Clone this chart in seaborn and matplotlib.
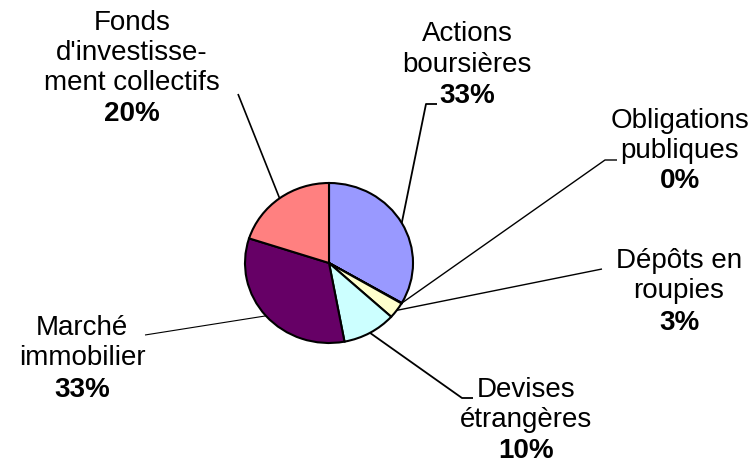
import matplotlib
matplotlib.use("Agg")
import matplotlib.pyplot as plt
import seaborn as sns
import numpy as np

# Portfolio composition (percent of total)
categories = [
    "Actions\nboursières",
    "Obligations\npubliques",
    "Dépôts en\nroupies",
    "Devises\nétrangères",
    "Marché\nimmobilier",
    "Fonds\nd'investisse-\nment collectifs",
]
shares = [33.3, 0.1, 3.3, 10.3, 32.9, 20.0]
colors = ["#9999FF", "#993366", "#FFFFCC", "#CCFFFF", "#660066", "#FF8080"]

# Label placement in pixels: text centre x, baselines of name lines,
# baseline of the percentage, and leader-line points beyond the wedge edge
label_x = [467, 680, 679, 526, 82, 132]
name_baselines = [[41, 72], [128, 158], [268, 298], [397, 427], [335, 365], [30, 60, 90]]
pct_baseline = [103, 188, 330, 458, 397, 121]
leader_paths = [
    [(426, 104), (437, 104)],
    [(605, 160), (617, 160)],
    [(602, 269)],
    [(462, 398), (473, 398)],
    [(145, 335)],
    [(238, 94)],
]
leader_width = [1.3, 1.0, 1.0, 1.3, 0.8, 1.2]

W, H = 756, 463
CX, CY, RX, RY = 329, 263, 84, 80

sns.set_theme(style="white")
plt.rcParams["font.family"] = ["Liberation Sans", "DejaVu Sans"]

fig = plt.figure(figsize=(W / 100, H / 100), dpi=100)
fig.patch.set_facecolor("white")

# Full-figure overlay in pixel coordinates for labels and leader lines
ov = fig.add_axes([0, 0, 1, 1])
ov.set_xlim(0, W)
ov.set_ylim(H, 0)
ov.axis("off")

pax = fig.add_axes([(CX - RX) / W, (H - CY - RY) / H, 2 * RX / W, 2 * RY / H])
pax.set_facecolor("none")
pax.pie(
    shares,
    colors=colors,
    startangle=90,
    counterclock=False,
    wedgeprops=dict(edgecolor="black", linewidth=1.5, clip_on=False),
)
pax.set_xlim(-1, 1)
pax.set_ylim(-1, 1)
pax.set_aspect("auto")
pax.axis("off")

total = sum(shares)
cum = 0.0
for i, (name, s) in enumerate(zip(categories, shares)):
    mid = np.deg2rad(90 - 360 * (cum + s / 2) / total)
    cum += s
    start = (CX + RX * np.cos(mid), CY - RY * np.sin(mid))
    pts = [start] + leader_paths[i]
    xs, ys = zip(*pts)
    ov.plot(xs, ys, color="black", lw=leader_width[i], solid_capstyle="butt")

    for line, yb in zip(name.split("\n"), name_baselines[i]):
        ov.text(label_x[i], yb, line, ha="center", va="baseline",
                fontsize=20, color="black")
    ov.text(label_x[i], pct_baseline[i], f"{round(s):.0f}%", ha="center",
            va="baseline", fontsize=20, fontweight="bold", color="black")

fig.savefig("out.png", dpi=100, facecolor="white")
